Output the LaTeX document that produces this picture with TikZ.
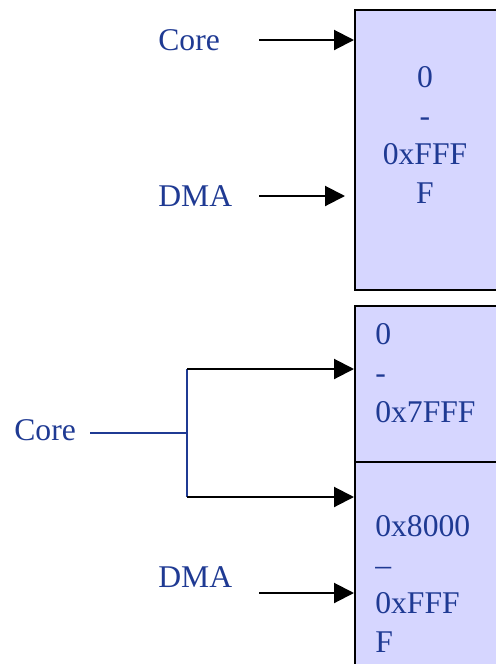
\documentclass[tikz,border=0pt]{standalone}
\usepackage{fontspec}
\setmainfont{Liberation Serif}
\usetikzlibrary{arrows.meta}
\definecolor{txtblue}{RGB}{31,58,147}
\definecolor{memfill}{RGB}{214,214,255}

\begin{document}
\begin{tikzpicture}[x=0.02cm,y=-0.02cm]
                        \tikzstyle{lbl}=[text=txtblue, font=\fontsize{18}{22}\selectfont, inner sep=0pt]
                        \tikzstyle{mem}=[draw=black, fill=memfill, line width=1.2pt, minimum width=3cm, inner sep=0pt, anchor=north west]
                        \tikzstyle{arr}=[draw=black, line width=1.2pt, -{Triangle[length=0.4cm,width=0.4cm]}]
                        \tikzstyle{bus}=[draw=txtblue, line width=1.2pt]
                        \useasboundingbox (0,0) rectangle (496,664);
                        % one block, two masters
                        \node[mem, minimum height=5.6cm] (whole) at (354,9) {};
                        \node[lbl, align=center] (wtxt) at (425,135) {0\\-\\0xFFF\\F};
                        \node[lbl, anchor=west] (coreA) at (158,40) {Core};
                        \node[lbl, anchor=west] (dmaA) at (158,196) {DMA};
                        \coordinate (t1) at (259,40);
                        \coordinate (t2) at (259,196);
                        \coordinate (h2) at (345,196);
                        \draw[arr] (t1) -- (t1 -| whole.west);
                        \draw[arr] (t2) -- (h2);
                        % split into two banks
                        \node[mem, minimum height=3.12cm] (lo) at (354,305) {};
                        \node[mem, minimum height=4.6cm] (hi) at (354,461) {};
                        \node[lbl, align=left, anchor=west] (lotxt) at (375,373) {0\\-\\0x7FFF};
                        \node[lbl, align=left, anchor=west] (hitxt) at (375,584) {0x8000\\–\\0xFFF\\F};
                        \node[lbl, anchor=west] (coreB) at (14,430) {Core};
                        \node[lbl, anchor=west] (dmaB) at (158,577) {DMA};
                        \coordinate (c0) at (90,433);
                        \coordinate (fork) at (187,433);
                        \coordinate (forkU) at (187,369);
                        \coordinate (forkD) at (187,497);
                        \coordinate (t3) at (259,593);
                        \draw[bus] (c0) -- (fork);
                        \draw[bus] (forkU) -- (forkD);
                        \draw[arr] (forkU) -- (forkU -| lo.west);
                        \draw[arr] (forkD) -- (forkD -| hi.west);
                        \draw[arr] (t3) -- (t3 -| hi.west);
\end{tikzpicture}
\end{document}
